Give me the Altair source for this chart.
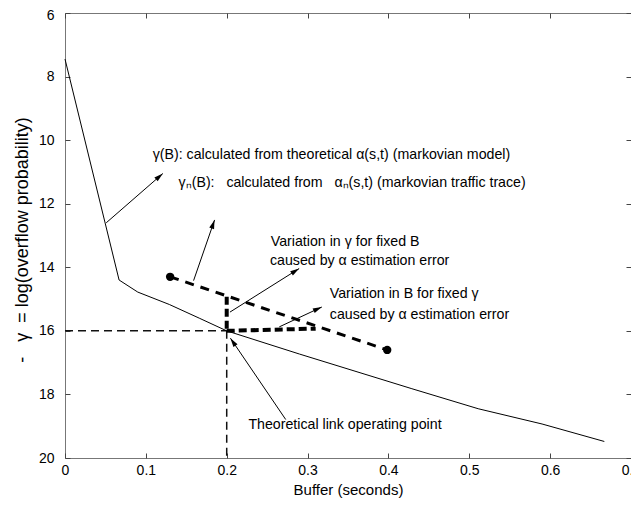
import math
import altair as alt
import pandas as pd

FONT = "Liberation Sans"
W, H = 566, 445
X_DOM = [0.0, 0.7]
Y_DOM = [6, 20]
SP = "\u00a0"

# theoretical curve gamma(B)
curve_B = [0.0, 0.0669, 0.090, 0.129, 0.166, 0.200, 0.290, 0.429, 0.511, 0.590, 0.667]
curve_g = [7.45, 14.40, 14.78, 15.17, 15.60, 16.00, 16.73, 17.82, 18.45, 18.93, 19.48]

# markovian traffic trace estimate gamma_n(B)
trace_B = [0.130, 0.3985]
trace_g = [14.30, 16.60]

# thin dashed guides to the operating point
thin_B = [0.0, 0.2]
thin_B2 = [0.2, 0.2]
thin_g = [16.0, 16.0]
thin_g2 = [16.0, 20.0]

# thick dashed variation segments
thick_B = [0.2, 0.2]
thick_B2 = [0.2, 0.31]
thick_g = [14.93, 16.0]
thick_g2 = [16.0, 15.93]

# annotation arrows (tail -> head)
arrow_tail_B = [0.051, 0.159, 0.204, 0.265, 0.273]
arrow_tail_g = [12.60, 14.42, 15.41, 15.875, 18.79]
arrow_head_B = [0.121, 0.185, 0.2896, 0.3176, 0.2046]
arrow_head_g = [11.05, 12.51, 14.04, 15.25, 16.23]

# annotation texts
label_text = [
    "γ(B): calculated from theoretical α(s,t) (markovian model)",
    "γₙ(B):" + SP * 3 + "calculated from" + SP * 3 + "αₙ(s,t) (markovian traffic trace)",
    "Variation in γ for fixed B",
    "caused by α estimation error",
    "Variation in B for fixed γ",
    "caused by α estimation error",
    "Theoretical link operating point",
]
label_B = [0.1085, 0.1405, 0.2545, 0.2535, 0.3275, 0.3275, 0.2268]
label_g = [10.46, 11.34, 13.22, 13.81, 14.85, 15.51, 18.97]

x_ticks = [0.0, 0.1, 0.2, 0.3, 0.4, 0.5, 0.6, 0.7]
y_ticks = [6, 8, 10, 12, 14, 16, 18, 20]

y_title = "-" + SP * 3 + "γ" + SP * 2 + "=" + SP + "log(overflow probability)"

TK = 5
x_axis = alt.Axis(
    values=x_ticks, format="~g", title="Buffer (seconds)",
    grid=True, gridDash=[TK, H - 2 * TK, TK, 3000], gridColor="#444", gridWidth=1,
    ticks=False, domain=False, labelFlush=False, labelOverlap=False,
    labelFont=FONT, labelFontSize=14, labelColor="black", labelPadding=5,
    titleFont=FONT, titleFontSize=15, titleFontWeight="normal", titleColor="black",
    titleX=W / 2, titleY=31, titleBaseline="middle", titleAlign="center",
)
y_axis = alt.Axis(
    values=y_ticks, title=y_title,
    grid=True, gridDash=[TK, W - 2 * TK, TK, 3000], gridColor="#444", gridWidth=1,
    ticks=False, domain=False, labelOverlap=False,
    labelOffset=alt.ExprRef("datum.value == 6 ? 2 : 0"),
    labelFont=FONT, labelFontSize=14, labelColor="black", labelPadding=11,
    titleFont=FONT, titleFontSize=18, titleFontWeight="normal", titleColor="black",
    titleX=-43, titleY=H / 2 + 4, titleAngle=270, titleBaseline="middle", titleAlign="center",
)
xs = alt.Scale(domain=X_DOM, nice=False, zero=False)
ys = alt.Scale(domain=Y_DOM, nice=False, zero=False, reverse=True)


def X(f):
    return alt.X(f, type="quantitative", scale=xs, axis=x_axis)


def Y(f):
    return alt.Y(f, type="quantitative", scale=ys, axis=y_axis)


curve_df = pd.DataFrame({"B": curve_B, "g": curve_g})
trace_df = pd.DataFrame({"B": trace_B, "g": trace_g})
thin_df = pd.DataFrame({"B": thin_B, "B2": thin_B2, "g": thin_g, "g2": thin_g2})
thick_df = pd.DataFrame({"B": thick_B, "B2": thick_B2, "g": thick_g, "g2": thick_g2})

sx = W / (X_DOM[1] - X_DOM[0])
sy = H / (Y_DOM[1] - Y_DOM[0])
angles = []
for tb, tg, hb, hg in zip(arrow_tail_B, arrow_tail_g, arrow_head_B, arrow_head_g):
    dx = (hb - tb) * sx
    dy = (hg - tg) * sy
    angles.append(math.degrees(math.atan2(dx, -dy)) % 360)
arrow_df = pd.DataFrame({"B": arrow_tail_B, "g": arrow_tail_g,
                         "B2": arrow_head_B, "g2": arrow_head_g, "ang": angles})
label_df = pd.DataFrame({"t": label_text, "B": label_B, "g": label_g})

curve = alt.Chart(curve_df).mark_line(color="black", strokeWidth=1).encode(x=X("B"), y=Y("g"))

thin = alt.Chart(thin_df).mark_rule(color="#111", strokeWidth=1.5, strokeDash=[8, 5]).encode(
    x=X("B"), x2="B2", y=Y("g"), y2="g2")

thick = alt.Chart(thick_df).mark_rule(color="black", strokeWidth=4, strokeDash=[8, 4]).encode(
    x=X("B"), x2="B2", y=Y("g"), y2="g2")

trace = alt.Chart(trace_df).mark_line(color="black", strokeWidth=3, strokeDash=[9, 7]).encode(
    x=X("B"), y=Y("g"))

dots = alt.Chart(trace_df).mark_circle(color="black", size=70, opacity=1).encode(x=X("B"), y=Y("g"))

arrows = alt.Chart(arrow_df).mark_rule(color="black", strokeWidth=1).encode(
    x=X("B"), x2="B2", y=Y("g"), y2="g2")

heads = alt.Chart(arrow_df).mark_point(
    shape="M0,0L0.28,1L-0.28,1Z", filled=True, fill="black", strokeWidth=0, size=324, opacity=1
).encode(x=X("B2"), y=Y("g2"), angle=alt.Angle("ang:Q", scale=None))

labels = alt.Chart(label_df).mark_text(
    align="left", baseline="middle", font=FONT, fontSize=14.2, color="black"
).encode(x=X("B"), y=Y("g"), text="t:N")

chart = alt.layer(thin, curve, trace, thick, dots, arrows, heads, labels).properties(
    width=W, height=H, autosize="none",
    padding={"left": 57, "top": 5, "right": 0, "bottom": 40},
).configure_view(stroke="#777", strokeWidth=1)

chart.save("out.html", embed_options={"renderer": "svg", "actions": False})
